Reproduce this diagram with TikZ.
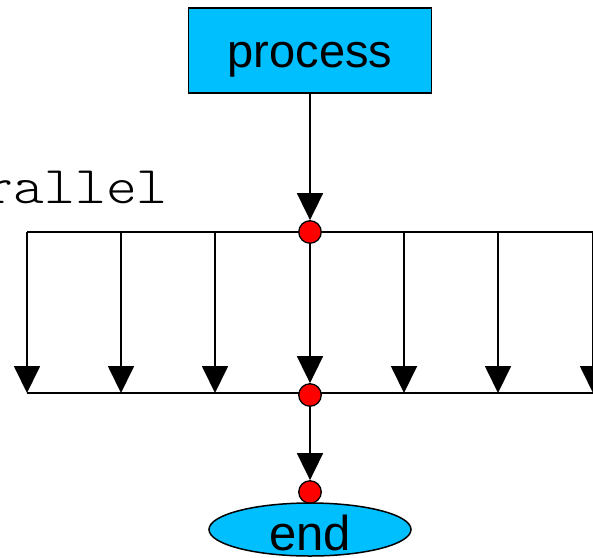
\documentclass[tikz,border=0pt]{standalone}
\usepackage{fontspec}
\setmainfont{Liberation Sans}
\newfontfamily\codefont{lmmonolt10-regular}[Extension=.otf]
\usetikzlibrary{arrows.meta,shapes.geometric,backgrounds}
\definecolor{boxblue}{RGB}{0,191,255}
% text lowered below the centre of its node, taking no vertical room
\newcommand\lowertext[2]{\raisebox{-#1}[0pt][0pt]{#2}}

\begin{document}
\begin{tikzpicture}[x=1pt,y=-1pt,
  flow/.style={line width=1.8pt},
  flowarrow/.style={flow,-{Triangle[width=26pt,length=27pt]}},
  junction/.style={circle,draw,line width=1.3pt,fill=red,minimum size=22.5pt,inner sep=0pt},
  procbox/.style={rectangle,draw,line width=1.5pt,fill=boxblue,
    minimum width=243pt,minimum height=85pt,inner sep=0pt,
    font=\fontsize{47}{47}\selectfont},
  endbox/.style={ellipse,draw,line width=1.5pt,fill=boxblue,
    minimum width=202pt,minimum height=53pt,inner sep=0pt,
    font=\fontsize{49}{49}\selectfont},
  codelabel/.style={inner sep=0pt,font=\codefont\fontsize{53}{53}\selectfont}]
  \useasboundingbox (0,0) rectangle (593,557);
  \clip (0,0) rectangle (593,557);

  % nodes
  \node[procbox] (proc) at (310,50.5) {\lowertext{16.5pt}{process}};
  \node[junction] (j1) at (310,232) {};
  \node[junction] (j2) at (310,395) {};
  \node[junction] (j3) at (310,492) {};
  \node[endbox] (end) at (310,529.5) {\lowertext{20.5pt}{end}};
  \node[codelabel,anchor=base east] (par) at (168,203) {\scalebox{1.11}[1]{parallel}};

  % fork and join rails, with the branch coordinates
  \foreach \i/\x in {1/27,2/121,3/215,5/404,6/498,7/593} {
    \coordinate (t\i) at (\x,232);
    \coordinate (b\i) at (\x,393);
  }
  \coordinate (tR) at (610,232);
  \coordinate (bR) at (610,393);

  \begin{scope}[on background layer]
    \draw[flow] (t1) -- (tR);
    \draw[flow] (b1) -- (bR);
    \foreach \i in {1,2,3,5,6,7}
      \draw[flowarrow] (t\i) -- (b\i);
  \end{scope}

  % main flow
  \draw[flowarrow] (proc.south) -- (j1.north);
  \draw[flowarrow] (j1.south) -- (j2.north);
  \draw[flowarrow] (j2.south) -- (j3.north);
\end{tikzpicture}
\end{document}
